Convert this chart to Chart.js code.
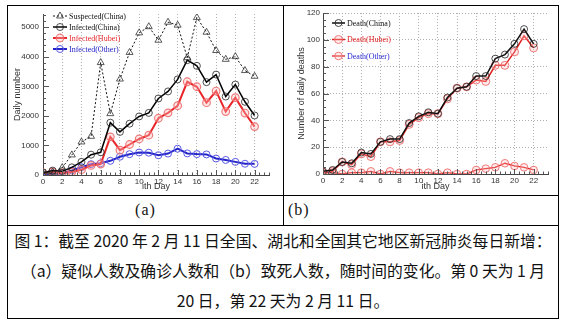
<!DOCTYPE html>
<html><head><meta charset="utf-8">
<script src="https://cdn.jsdelivr.net/npm/chart.js@4.4.0/dist/chart.umd.min.js"></script>
<style>
html,body{margin:0;padding:0;background:#fff;width:568px;height:327px;overflow:hidden;position:relative;}
.ln{position:absolute;background:#000;}
#frame{position:absolute;left:7px;top:5px;width:552px;height:314px;border:1px solid #000;box-sizing:border-box;}
canvas{position:absolute;}
#ca{left:8px;top:6px;}
#cb{left:284px;top:6px;}
.lab{position:absolute;font-family:'Liberation Serif',serif;font-size:16px;letter-spacing:1px;color:#111;line-height:30px;top:195px;height:30px;}
#cap{position:absolute;left:7px;top:226px;width:552px;text-align:center;font-family:'Noto Sans CJK SC',sans-serif;font-size:15.8px;line-height:30px;color:#111;white-space:nowrap;}
</style></head>
<body>
<div id="frame"></div>
<div class="ln" style="left:283px;top:5px;width:1px;height:220px;"></div>
<div class="ln" style="left:7px;top:195px;width:552px;height:1px;"></div>
<div class="ln" style="left:7px;top:225px;width:552px;height:1px;"></div>
<canvas id="ca" width="275" height="189"></canvas>
<canvas id="cb" width="275" height="189"></canvas>
<div class="lab" style="left:8px;width:275px;text-align:center;">(a)</div>
<div class="lab" style="left:288px;">(b)</div>
<div id="cap">图 1：截至 2020 年 2 月 11 日全国、湖北和全国其它地区新冠肺炎每日新增：<br>（a）疑似人数及确诊人数和（b）致死人数，随时间的变化。第 0 天为 1 月<br>20 日，第 22 天为 2 月 11 日。</div>
<script>
// ---- data ----
const days = [0,1,2,3,4,5,6,7,8,9,10,11,12,13,14,15,16,17,18,19,20,21,22];
const suspectedChina = [50,100,250,680,1118,1309,3806,2077,3248,4148,4812,5019,4562,5173,5072,3971,5328,4833,4214,3916,4008,3536,3342];
const infectedChina = [77,149,131,259,444,688,769,1771,1459,1737,1982,2102,2590,2829,3235,3887,3694,3143,3399,2656,3062,2478,2015];
const infectedHubei = [72,105,69,105,180,323,371,1291,840,1032,1220,1347,1921,2103,2345,3156,2987,2447,2841,2147,2618,2097,1638];
const infectedOther = [5,44,62,154,264,365,398,480,619,705,762,755,669,726,890,731,707,696,558,509,444,381,377];
const deathChina = [2,3,9,8,16,15,24,26,26,38,43,46,45,57,64,65,73,73,86,89,97,108,97];
const deathHubei = [1,2,9,7,15,13,24,24,25,37,42,45,45,56,64,65,70,69,81,81,91,103,94];
const deathOther = [1,1,0,1,1,2,0,2,1,1,1,1,0,1,0,0,3,4,5,8,6,5,3];
const labelsA = ['Suspected(China)','Infected(China)','Infected(Hubei)','Infected(Other)'];
const labelsB = ['Death(China)','Death(Hubei)','Death(Other)'];
const xTicks = [0,2,4,6,8,10,12,14,16,18,20,22];
const yTicksA = [0,1000,2000,3000,4000,5000];
const yTicksB = [0,20,40,60,80,100,120];
const xTitle = 'ith Day';
const yTitleA = 'Daily number';
const yTitleB = 'Number of daily deaths';

const pts = arr => arr.map((v,i)=>({x:days[i], y:v}));
const setTicks = list => (s => { s.ticks = list.map(v=>({value:v})); });

const legendPlugin = {
  id:'rootLegend',
  afterDatasetsDraw(chart, args, o){
    const ctx = chart.ctx;
    chart.data.datasets.forEach((ds,i)=>{
      const y = o.y0 + i*o.dy;
      ctx.save();
      ctx.strokeStyle = ds.borderColor; ctx.lineWidth = ds.borderWidth;
      ctx.setLineDash(ds.borderDash||[]);
      ctx.beginPath(); ctx.moveTo(o.x1,y); ctx.lineTo(o.x2,y); ctx.stroke();
      ctx.setLineDash([]);
      ctx.strokeStyle = ds.pointBorderColor; ctx.fillStyle = ds.pointBackgroundColor; ctx.lineWidth = ds.pointBorderWidth;
      Chart.helpers.drawPoint(ctx,{pointStyle:ds.pointStyle,radius:ds.pointRadius,rotation:0,borderWidth:ds.pointBorderWidth},(o.x1+o.x2)/2,y);
      ctx.fillStyle = ds.legendColor; ctx.font = o.font; ctx.textBaseline='middle'; ctx.textAlign='left';
      ctx.fillText(ds.label, o.tx, y+0.5);
      ctx.restore();
    });
  }
};
const tickPlugin = {
  id:'inTicks',
  afterDraw(chart, args, o){
    const {ctx, chartArea:a, scales:{x,y}} = chart;
    ctx.save(); ctx.strokeStyle='#555'; ctx.lineWidth=1; ctx.beginPath();
    for(let v=x.min; v<=x.max+1e-9; v+=o.xMinor){
      const px = Math.round(x.getPixelForValue(v))+0.5;
      const r = v/o.xMajor; const major = Math.abs(r-Math.round(r))<1e-6;
      ctx.moveTo(px,a.bottom); ctx.lineTo(px,a.bottom-(major?5:2.5));
    }
    for(let v=y.min; v<=y.max+1e-9; v+=o.yMinor){
      const py = Math.round(y.getPixelForValue(v))+0.5;
      const r = v/o.yMajor; const major = Math.abs(r-Math.round(r))<1e-6;
      ctx.moveTo(a.left,py); ctx.lineTo(a.left+(major?6:3),py);
    }
    ctx.stroke(); ctx.restore();
  }
};

const tickFont = {family:"'Liberation Sans', Arial, sans-serif", size:8, lineHeight:1};
const titleFont = {family:"'Liberation Sans', Arial, sans-serif", size:9, lineHeight:1};
const gridStyle = {color:'#b0b0b0', lineWidth:1, drawTicks:false};

function xScale(h){
  return {type:'linear', min:0, max:23.5,
    afterBuildTicks:setTicks(xTicks),
    ticks:{font:tickFont, color:'#333', padding:3, maxRotation:0, autoSkip:false, callback:v=>String(v)},
    grid:Object.assign({display:true}, gridStyle),
    border:{display:true, color:'#444', width:1, dash:[1,2]},
    title:{display:true, text:xTitle, font:titleFont, color:'#333', padding:{top:0,bottom:3.5}},
    afterFit(s){ s.height = h; }};
}

new Chart(document.getElementById('ca'), {
  type:'line',
  data:{datasets:[
    {label:labelsA[0], data:pts(suspectedChina), borderColor:'#111', borderWidth:1, borderDash:[2,2],
     pointStyle:'triangle', pointRadius:4, pointBorderWidth:0.8, pointBorderColor:'#333', pointBackgroundColor:'rgba(0,0,0,0)', legendColor:'#111'},
    {label:labelsA[1], data:pts(infectedChina), borderColor:'#000', borderWidth:1.5,
     pointStyle:'circle', pointRadius:3.5, pointBorderWidth:0.8, pointBorderColor:'#222', pointBackgroundColor:'rgba(0,0,0,0)', legendColor:'#111'},
    {label:labelsA[2], data:pts(infectedHubei), borderColor:'#e8262a', borderWidth:2,
     pointStyle:'circle', pointRadius:3.8, pointBorderWidth:1.2, pointBorderColor:'rgba(238,110,110,0.9)', pointBackgroundColor:'rgba(255,190,190,0.35)', legendColor:'#e8262a'},
    {label:labelsA[3], data:pts(infectedOther), borderColor:'#2424c8', borderWidth:2,
     pointStyle:'circle', pointRadius:3.5, pointBorderWidth:1, pointBorderColor:'#5a5ae6', pointBackgroundColor:'rgba(0,0,0,0)', legendColor:'#2424c8'}
  ]},
  options:{responsive:false, animation:false, devicePixelRatio:1,
    layout:{padding:{left:0,right:14,top:5,bottom:0}},
    plugins:{legend:{display:false}, tooltip:{enabled:false},
      rootLegend:{x1:45,x2:59,tx:61,y0:10,dy:11,font:"8px 'Liberation Serif', serif"},
      inTicks:{xMinor:0.5,xMajor:2,yMinor:200,yMajor:1000}},
    scales:{
      x:xScale(20),
      y:{type:'linear', min:0, max:5450,
        afterBuildTicks:setTicks(yTicksA),
        ticks:{font:tickFont, color:'#333', padding:4, autoSkip:false, callback:v=>String(v)},
        grid:{display:false, drawTicks:false},
        border:{display:true, color:'#444', width:1},
        title:{display:true, text:yTitleA, font:titleFont, color:'#333', padding:{top:5.5,bottom:0}},
        afterFit(s){ s.width = 35; }}
    }},
  plugins:[legendPlugin, tickPlugin]
});

new Chart(document.getElementById('cb'), {
  type:'line',
  data:{datasets:[
    {label:labelsB[0], data:pts(deathChina), borderColor:'#111', borderWidth:1.5,
     pointStyle:'circle', pointRadius:3.5, pointBorderWidth:0.8, pointBorderColor:'#222', pointBackgroundColor:'rgba(0,0,0,0)', legendColor:'#111'},
    {label:labelsB[1], data:pts(deathHubei), borderColor:'#e02020', borderWidth:1.5,
     pointStyle:'circle', pointRadius:4, pointBorderWidth:1, pointBorderColor:'rgba(238,110,110,0.9)', pointBackgroundColor:'rgba(255,190,190,0.3)', legendColor:'#e02020'},
    {label:labelsB[2], data:pts(deathOther), borderColor:'#e02020', borderWidth:1.3,
     pointStyle:'circle', pointRadius:3.8, pointBorderWidth:1, pointBorderColor:'rgba(238,110,110,0.9)', pointBackgroundColor:'rgba(255,190,190,0.3)', legendColor:'#2a2ad0'}
  ]},
  options:{responsive:false, animation:false, devicePixelRatio:1,
    layout:{padding:{left:0,right:11,top:4,bottom:0}},
    plugins:{legend:{display:false}, tooltip:{enabled:false},
      rootLegend:{x1:48,x2:61,tx:63,y0:17,dy:16.5,font:"8px 'Liberation Serif', serif"},
      inTicks:{xMinor:0.5,xMajor:2,yMinor:5,yMajor:20}},
    scales:{
      x:xScale(21),
      y:{type:'linear', min:0, max:120,
        afterBuildTicks:setTicks(yTicksB),
        ticks:{font:tickFont, color:'#333', padding:3, autoSkip:false, callback:v=>String(v)},
        grid:Object.assign({display:true}, gridStyle),
        border:{display:true, color:'#444', width:1, dash:[1,2]},
        title:{display:true, text:yTitleB, font:titleFont, color:'#333', padding:{top:13.5,bottom:0}},
        afterFit(s){ s.width = 39; }}
    }},
  plugins:[legendPlugin, tickPlugin]
});
</script>
</body></html>
